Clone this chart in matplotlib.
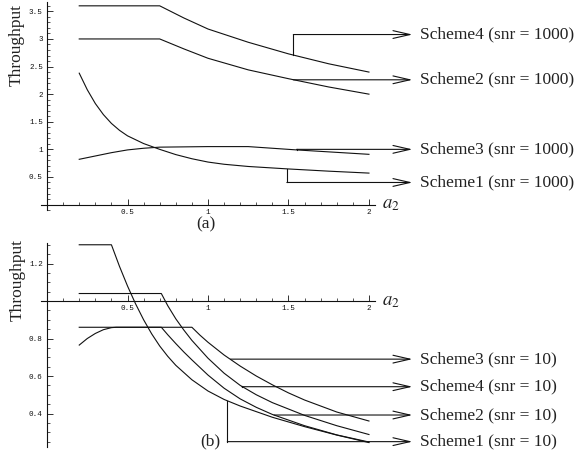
import numpy as np
import matplotlib
matplotlib.use('Agg')
import matplotlib.pyplot as plt
from matplotlib.ticker import MultipleLocator

plt.rcParams['font.family'] = ['Liberation Serif', 'DejaVu Serif']
plt.rcParams['mathtext.fontset'] = 'stix'

# ---- data (a): snr = 1000 ----
a_s4_top = [0.2, 0.7, 0.85, 1.0, 1.25, 1.5, 1.75, 2.0]
s4_top = [3.6, 3.6, 3.38, 3.18, 2.94, 2.73, 2.55, 2.40]
a_s2_top = [0.2, 0.7, 0.85, 1.0, 1.25, 1.5, 1.75, 2.0]
s2_top = [3.0, 3.0, 2.82, 2.65, 2.44, 2.28, 2.13, 2.0]
a_s1_top = [0.2, 0.25, 0.3, 0.35, 0.4, 0.45, 0.5, 0.6, 0.7, 0.8, 0.9, 1.0, 1.1, 1.25, 1.5, 1.75, 2.0]
s1_top = [2.38, 2.08, 1.83, 1.63, 1.47, 1.345, 1.245, 1.105, 1.0, 0.905, 0.83, 0.77, 0.73, 0.69, 0.645, 0.605, 0.57]
a_s3_top = [0.2, 0.3, 0.4, 0.5, 0.6, 0.7, 1.0, 1.25, 1.55, 2.0]
s3_top = [0.82, 0.88, 0.94, 0.99, 1.02, 1.04, 1.05, 1.05, 0.99, 0.91]

# ---- data (b): snr = 10 ----
a_s1_bot = [0.2, 0.4, 0.45, 0.5, 0.55, 0.6, 0.65, 0.7, 0.75, 0.8, 0.9, 1.0, 1.1, 1.2, 1.4, 1.6, 1.8, 2.0]
s1_bot = [1.30, 1.30, 1.185, 1.08, 0.985, 0.90, 0.825, 0.76, 0.705, 0.657, 0.58, 0.52, 0.475, 0.44, 0.38, 0.33, 0.285, 0.245]
a_s4_bot = [0.2, 0.71, 0.75, 0.8, 0.85, 0.9, 1.0, 1.1, 1.2, 1.3, 1.4, 1.6, 1.8, 2.0]
s4_bot = [1.04, 1.04, 0.975, 0.905, 0.845, 0.79, 0.695, 0.615, 0.55, 0.50, 0.458, 0.39, 0.335, 0.288]
a_s3_bot = [0.2, 0.9, 0.95, 1.0, 1.1, 1.2, 1.3, 1.4, 1.5, 1.6, 1.8, 2.0]
s3_bot = [0.86, 0.86, 0.818, 0.78, 0.712, 0.653, 0.60, 0.553, 0.51, 0.472, 0.408, 0.36]
a_s2_bot = [0.2, 0.25, 0.3, 0.35, 0.4, 0.43, 0.71, 0.75, 0.8, 0.85, 0.9, 1.0, 1.1, 1.2, 1.3, 1.4, 1.6, 1.8, 2.0]
s2_bot = [0.765, 0.80, 0.827, 0.847, 0.858, 0.86, 0.86, 0.82, 0.773, 0.728, 0.686, 0.605, 0.535, 0.478, 0.433, 0.395, 0.335, 0.286, 0.248]

x_ticks = [0.5, 1.0, 1.5, 2.0]
x_tick_labels = ['0.5', '1', '1.5', '2']
y_ticks_top = [0.5, 1.0, 1.5, 2.0, 2.5, 3.0, 3.5]
y_labels_top = ['0.5', '1', '1.5', '2', '2.5', '3', '3.5']
y_ticks_bot = [0.4, 0.6, 0.8, 1.2]
y_labels_bot = ['0.4', '0.6', '0.8', '1.2']

# callouts: label, anchor a2, level
call_top = [('Scheme4 (snr = 1000)', 1.53, 3.08, a_s4_top, s4_top),
            ('Scheme2 (snr = 1000)', 1.53, 2.26, a_s2_top, s2_top),
            ('Scheme3 (snr = 1000)', 1.55, 1.0, a_s3_top, s3_top),
            ('Scheme1 (snr = 1000)', 1.49, 0.40, a_s1_top, s1_top)]
call_bot = [('Scheme3 (snr = 10)', 1.14, 0.69, a_s3_bot, s3_bot),
            ('Scheme4 (snr = 10)', 1.21, 0.543, a_s4_bot, s4_bot),
            ('Scheme2 (snr = 10)', 1.41, 0.392, a_s2_bot, s2_bot),
            ('Scheme1 (snr = 10)', 1.12, 0.25, a_s1_bot, s1_bot)]

LC = '#111111'
fig = plt.figure(figsize=(5.75, 4.57), dpi=100)
ax1 = fig.add_axes([40.6/575, 0.5403, 334.8/575, 0.4554])
ax2 = fig.add_axes([40.6/575, 0.0213, 334.8/575, 0.4472])


def style(ax, y0, ylim, yt, yl, yminor):
    ax.set_xlim(-0.04, 2.04)
    ax.set_ylim(*ylim)
    ax.patch.set_visible(False)
    for s in ['top', 'right']:
        ax.spines[s].set_visible(False)
    ax.spines['left'].set_position(('data', 0))
    ax.spines['bottom'].set_position(('data', y0))
    for s in ['left', 'bottom']:
        ax.spines[s].set_linewidth(0.8)
        ax.spines[s].set_color(LC)
    ax.set_xticks(x_ticks)
    ax.set_xticklabels(x_tick_labels)
    ax.set_yticks(yt)
    ax.set_yticklabels(yl)
    ax.xaxis.set_minor_locator(MultipleLocator(0.1))
    ax.yaxis.set_minor_locator(MultipleLocator(yminor))
    ax.tick_params(which='major', direction='in', length=4, width=0.6,
                   labelsize=5.5, pad=3, colors=LC, labelfontfamily='Liberation Mono')
    ax.tick_params(which='minor', direction='in', length=2, width=0.5, colors=LC)
    ax.text(2.08, y0, r'$a_2$', fontsize=13.5, va='center', ha='left', color='#222222')


style(ax1, 0.0, (-0.1, 3.67), y_ticks_top, y_labels_top, 0.1)
style(ax2, 1.0, (0.22, 1.31), y_ticks_bot, y_labels_bot, 0.05)

for xs, ys in [(a_s4_top, s4_top), (a_s2_top, s2_top), (a_s1_top, s1_top), (a_s3_top, s3_top)]:
    ax1.plot(xs, ys, color=LC, lw=0.8)
for xs, ys in [(a_s1_bot, s1_bot), (a_s4_bot, s4_bot), (a_s3_bot, s3_bot), (a_s2_bot, s2_bot)]:
    ax2.plot(xs, ys, color=LC, lw=0.8)


def callouts(ax, items):
    tip = 2.27
    for label, x0, level, xs, ys in items:
        yc = np.interp(x0, xs, ys)
        ax.plot([x0, x0], [yc, level], color=LC, lw=0.8, clip_on=False)
        ax.annotate('', xy=(tip, level), xytext=(x0, level),
                    arrowprops=dict(arrowstyle='->,head_length=1.22,head_width=0.28',
                                    color=LC, lw=0.8, shrinkA=0, shrinkB=0),
                    annotation_clip=False)
        ax.text(tip + 0.045, level, label, fontsize=12.5, va='center', ha='left',
                color='#222222', clip_on=False)


callouts(ax1, call_top)
callouts(ax2, call_bot)

fig.text(17/575, 1 - 45/457, 'Throughput', rotation=90, fontsize=12.5, ha='center', va='center', color='#222222')
fig.text(17.5/575, 1 - 280/457, 'Throughput', rotation=90, fontsize=12.5, ha='center', va='center', color='#222222')
fig.text(206/575, 1 - 224/457, '(a)', fontsize=12.5, ha='center', va='center', color='#222222')
fig.text(210/575, 1 - 441/457, '(b)', fontsize=12.5, ha='center', va='center', color='#222222')

fig.savefig('out.png', dpi=100)
